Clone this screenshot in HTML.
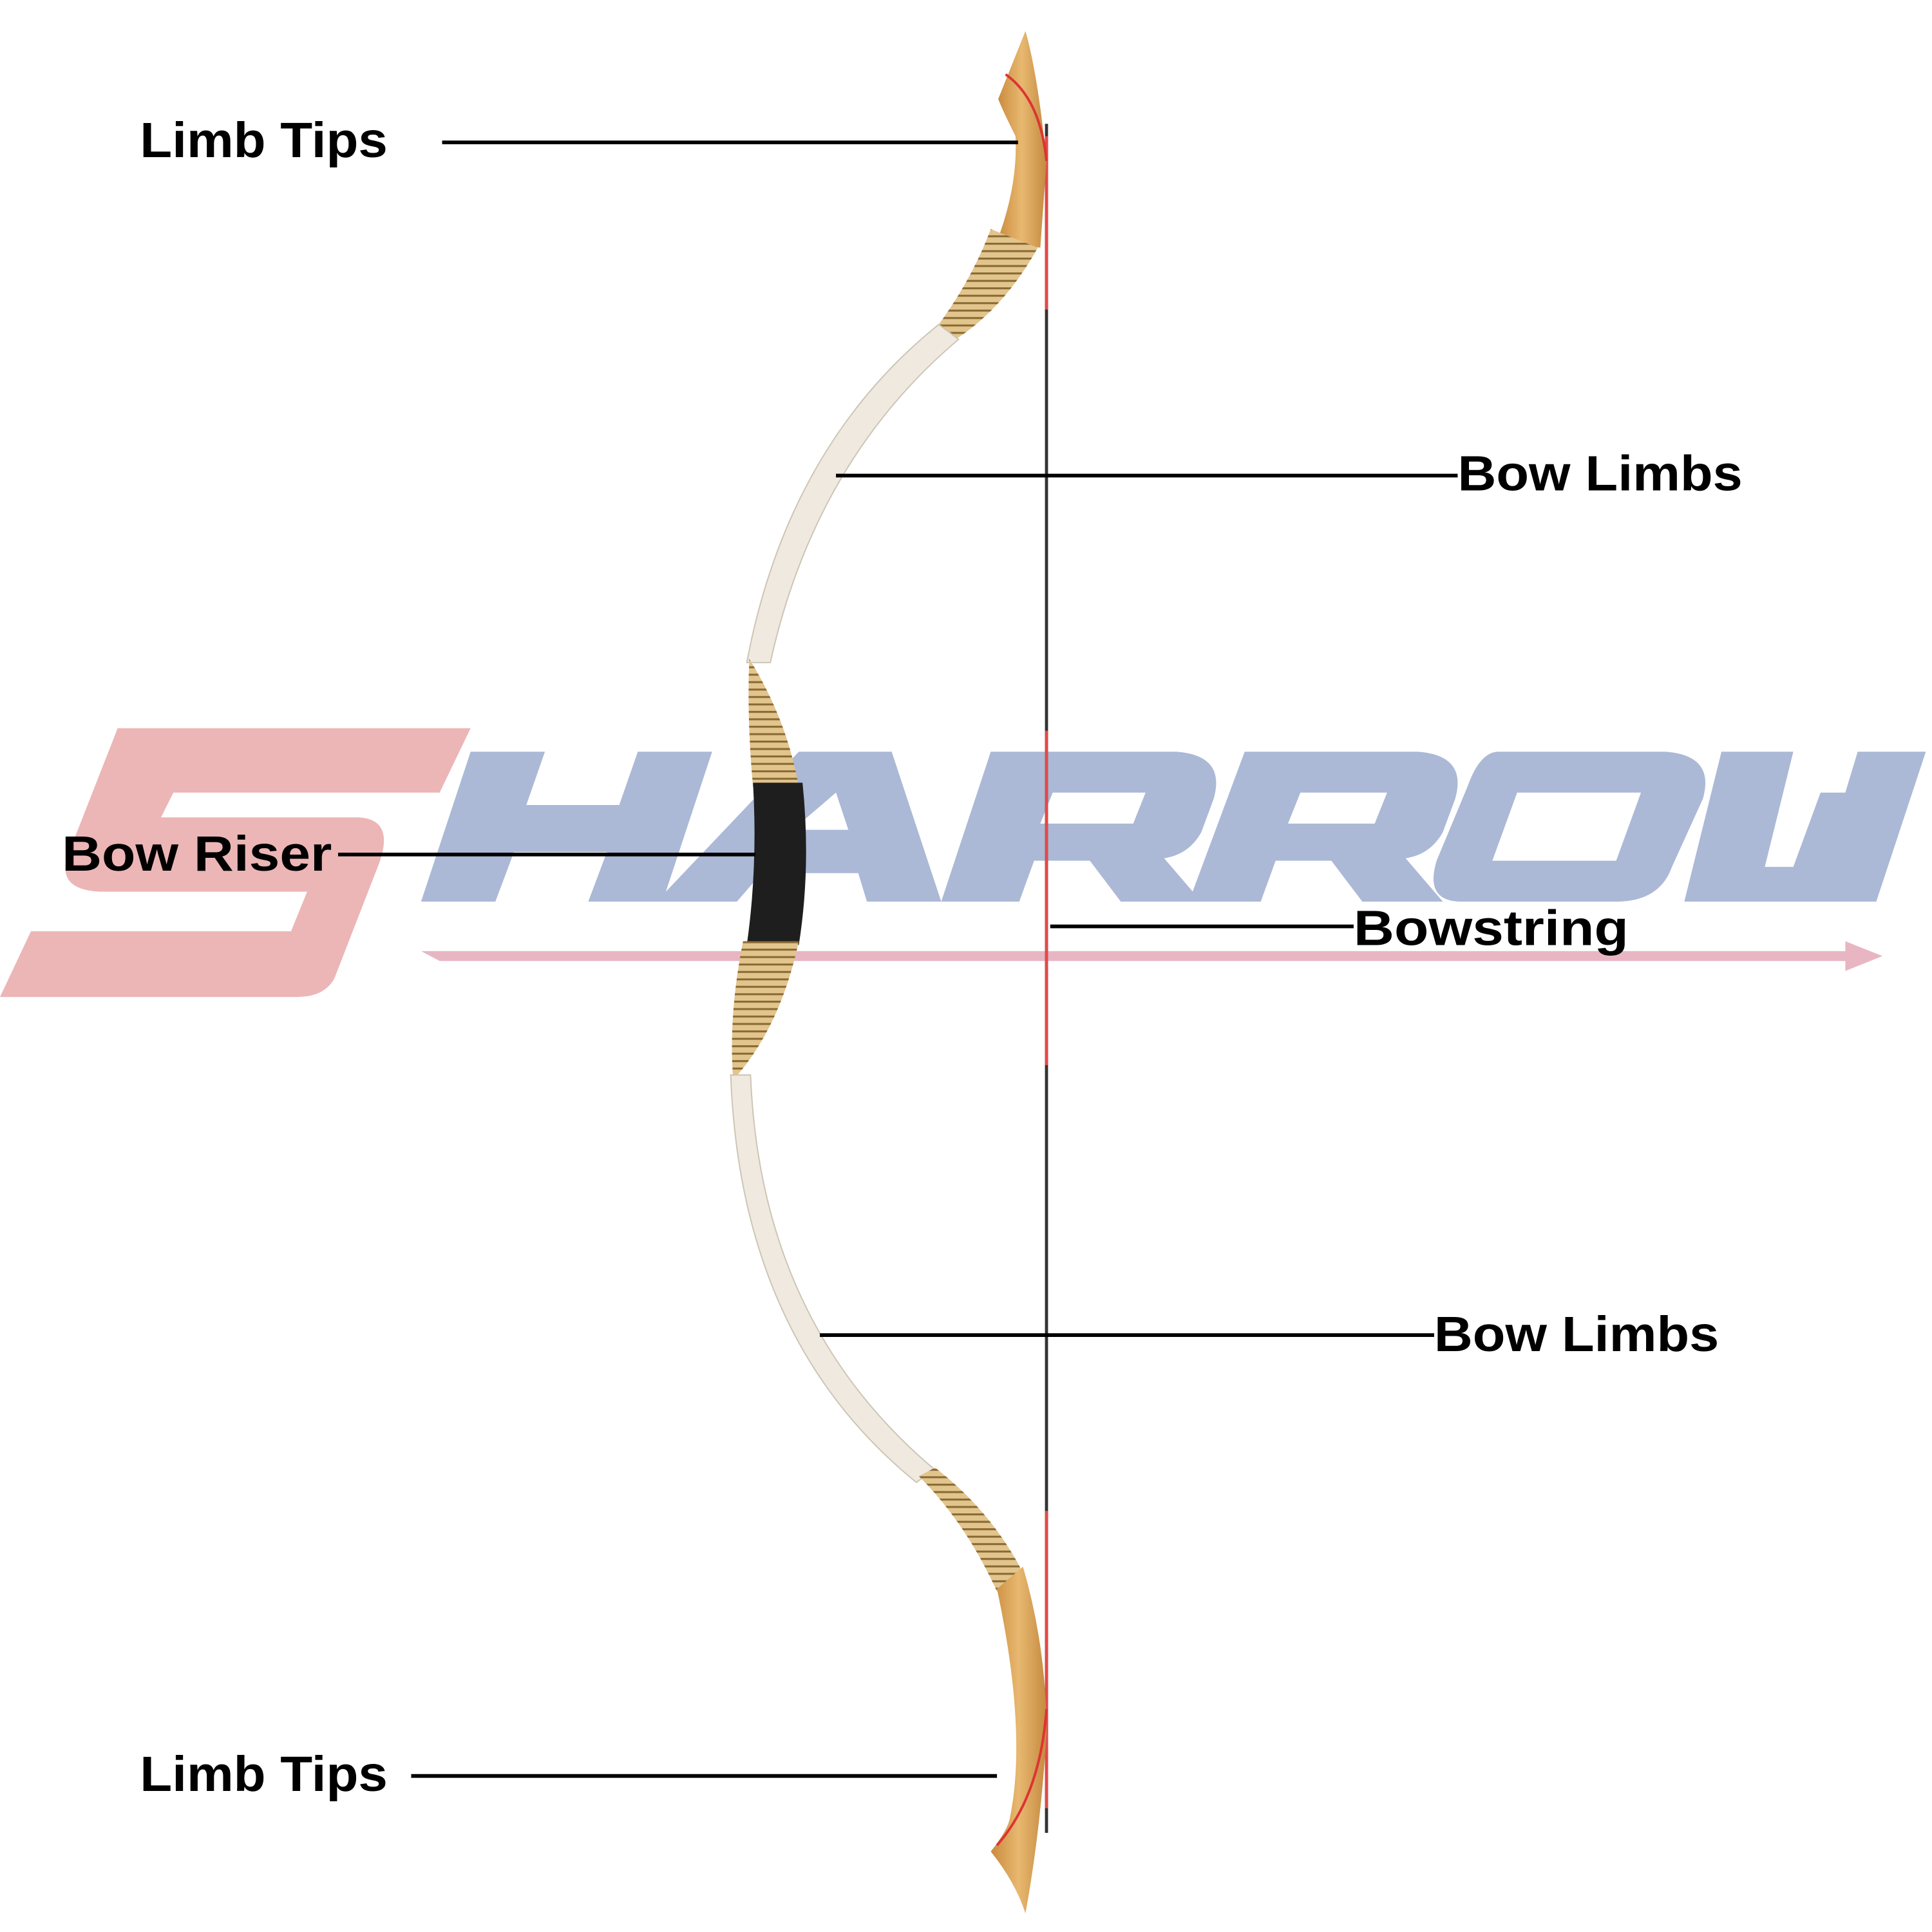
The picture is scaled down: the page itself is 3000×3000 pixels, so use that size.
<!DOCTYPE html>
<html><head><meta charset="utf-8"><style>
html,body{margin:0;padding:0;background:#fff;width:3000px;height:3000px;overflow:hidden}
svg{display:block}
text{font-family:"Liberation Sans",sans-serif;font-weight:bold;fill:#000}
</style></head><body>
<svg width="3000" height="3000" viewBox="0 0 1560 1560" xmlns="http://www.w3.org/2000/svg">
<defs>
<pattern id="wrap" width="8" height="6" patternUnits="userSpaceOnUse">
<rect width="8" height="6" fill="#e2c58c"/><rect y="4" width="8" height="1.6" fill="#8a6a34"/>
</pattern>
<linearGradient id="wood" x1="0" x2="1"><stop offset="0" stop-color="#c98a3c"/><stop offset="0.5" stop-color="#e8b870"/><stop offset="1" stop-color="#c58a40"/></linearGradient>
</defs>
<!-- watermark -->
<path d="M95 588 L380 588 L355 640 L140 640 L130 660 L290 660 Q320 662 305 700 L270 790 Q262 805 240 805 L0 805 L25 752 L235 752 L248 720 L80 720 Q45 718 55 690 Z" fill="#ecb6b6"/>
<g fill="#abb9d6">
<path d="M380 607 L440 607 L425 650 L500 650 L515 607 L575 607 L535 728 L475 728 L490 688 L415 688 L400 728 L340 728 Z"/>
<path d="M530 728 L645 607 L720 607 L760 728 L700 728 L693 705 L615 705 L595 728 Z M640 670 L685 670 L675 640 Z"/>
<path d="M800 607 L950 607 Q990 610 980 645 L970 672 Q960 690 940 693 L970 728 L905 728 L880 695 L835 695 L823 728 L760 728 Z M850 640 L840 665 L915 665 L925 640 Z"/>
<path d="M1005 607 L1145 607 Q1185 610 1175 645 L1165 672 Q1155 690 1135 693 L1165 728 L1100 728 L1075 695 L1030 695 L1018 728 L960 728 Z M1050 640 L1040 665 L1110 665 L1120 640 Z"/>
<path d="M1210 607 L1345 607 Q1385 610 1375 645 L1350 700 Q1340 728 1305 728 L1180 728 Q1150 728 1160 695 L1185 635 Q1195 607 1210 607 Z M1225 640 L1205 695 L1305 695 L1325 640 Z"/>
<path d="M1390 607 L1448 607 L1425 700 L1448 700 L1470 640 L1490 640 L1500 607 L1555 607 L1515 728 L1360 728 Z"/>
</g>
<path d="M340 768 L1490 768 L1490 760 L1520 772 L1490 784 L1490 776 L355 776 Z" fill="#e8b6c2"/>
<!-- string -->
<line x1="845" y1="100" x2="845" y2="1480" stroke="#333" stroke-width="2.5"/>
<line x1="845" y1="110" x2="845" y2="250" stroke="#e24a4a" stroke-width="2.5"/>
<line x1="845" y1="590" x2="845" y2="860" stroke="#e24a4a" stroke-width="2.5"/>
<line x1="845" y1="1220" x2="845" y2="1460" stroke="#e24a4a" stroke-width="2.5"/>
<!-- upper tip wood -->
<path d="M828 25 Q838 60 845 130 L840 200 L805 195 Q822 150 820 110 Q810 90 806 80 Z" fill="url(#wood)"/>
<path d="M812 60 Q840 80 845 130" stroke="#d33" stroke-width="2" fill="none"/>
<!-- upper wrap -->
<path d="M800 185 L838 200 Q810 250 770 275 L758 262 Q785 225 800 185 Z" fill="url(#wrap)"/>
<!-- upper white limb -->
<path d="M758 262 Q636 360 603 535 L622 535 Q658 372 774 274 Z" fill="#efe9df" stroke="#ccc4b4" stroke-width="1"/>
<!-- riser -->
<path d="M605 532 Q635 580 645 635 L608 635 Q603 580 605 532 Z" fill="url(#wrap)"/>
<path d="M608 632 L648 632 Q655 700 645 763 L603 763 Q612 700 608 632 Z" fill="#1e1e1e"/>
<path d="M600 760 L645 760 Q630 830 592 872 Q588 820 600 760 Z" fill="url(#wrap)"/>
<!-- lower white limb -->
<path d="M590 868 Q598 1082 740 1197 L754 1186 Q614 1068 606 868 Z" fill="#efe9df" stroke="#ccc4b4" stroke-width="1"/>
<!-- lower wrap -->
<path d="M742 1192 L755 1185 Q800 1220 825 1268 L805 1285 Q780 1230 742 1192 Z" fill="url(#wrap)"/>
<!-- lower wood -->
<path d="M805 1283 L826 1265 Q845 1330 845 1400 Q840 1480 828 1545 Q820 1520 800 1495 Q812 1480 815 1470 Q830 1400 805 1283 Z" fill="url(#wood)"/>
<path d="M845 1380 Q840 1450 805 1490" stroke="#d33" stroke-width="2" fill="none"/>
<!-- leader lines -->
<g stroke="#000" stroke-width="3">
<line x1="357" y1="115" x2="822" y2="115"/>
<line x1="675" y1="384" x2="1177" y2="384"/>
<line x1="273" y1="690" x2="610" y2="690"/>
<line x1="848" y1="748" x2="1093" y2="748"/>
<line x1="662" y1="1078" x2="1158" y2="1078"/>
<line x1="332" y1="1434" x2="805" y2="1434"/>
</g>
<g font-size="40">
<text x="113" y="127" textLength="200" lengthAdjust="spacingAndGlyphs">Limb Tips</text>
<text x="1177" y="396" textLength="230" lengthAdjust="spacingAndGlyphs">Bow Limbs</text>
<text x="50" y="703" textLength="218" lengthAdjust="spacingAndGlyphs">Bow Riser</text>
<text x="1093" y="763" textLength="222" lengthAdjust="spacingAndGlyphs">Bowstring</text>
<text x="1158" y="1091" textLength="230" lengthAdjust="spacingAndGlyphs">Bow Limbs</text>
<text x="113" y="1446" textLength="200" lengthAdjust="spacingAndGlyphs">Limb Tips</text>
</g>
</svg>
</body></html>
